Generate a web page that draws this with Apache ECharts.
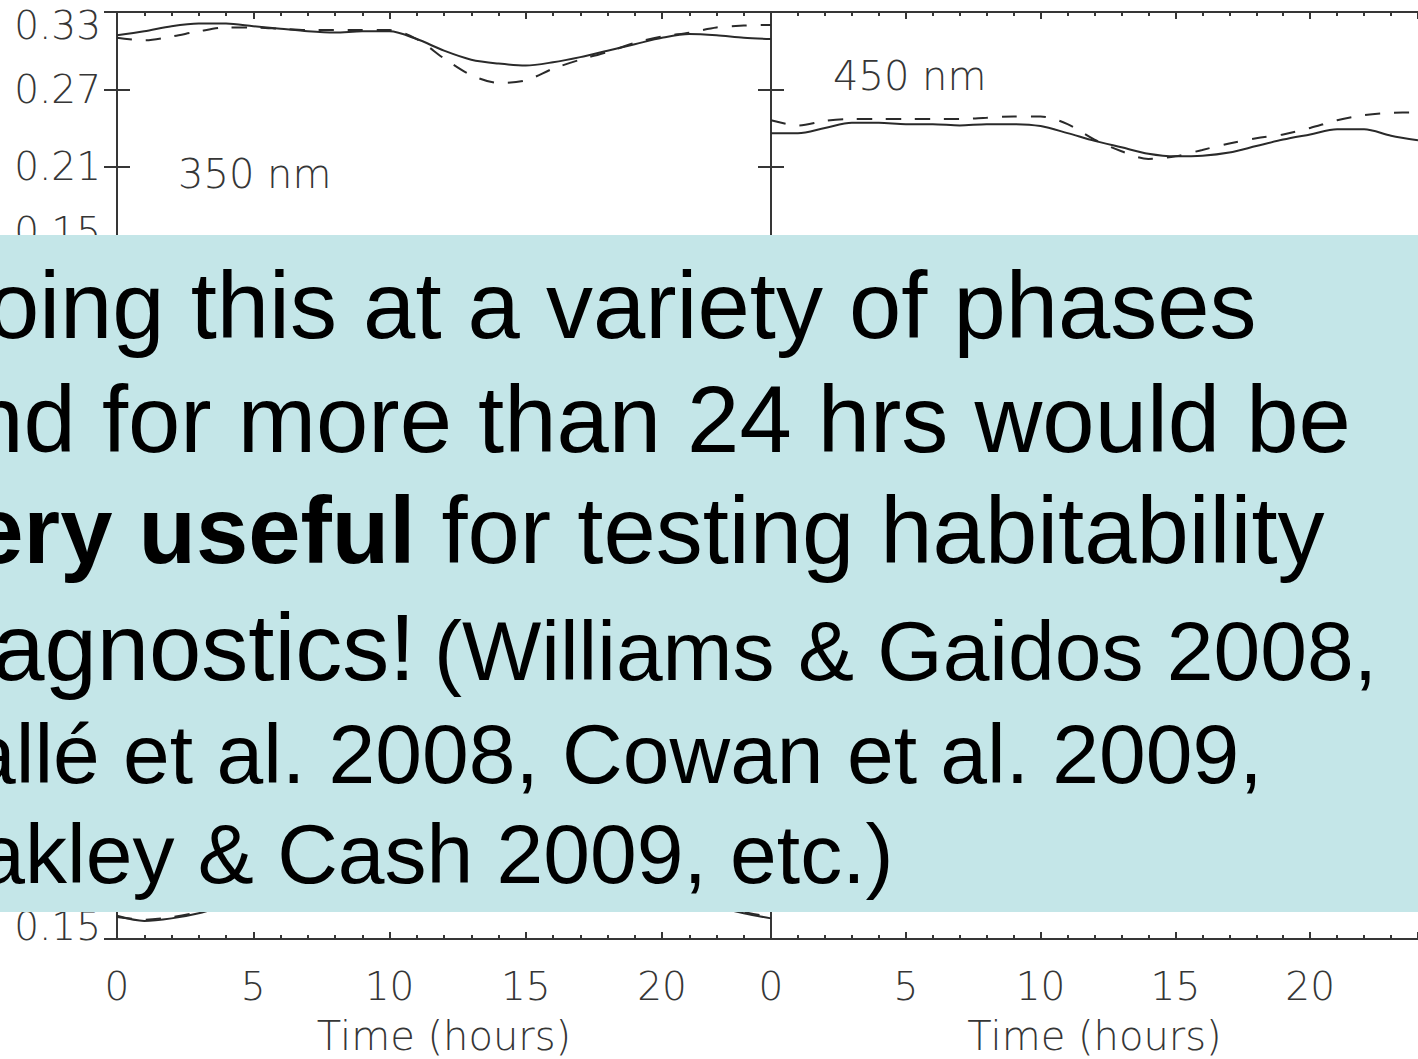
<!DOCTYPE html>
<html>
<head>
<meta charset="utf-8">
<title>Light curves</title>
<script src="https://cdn.jsdelivr.net/npm/echarts@6/dist/echarts.min.js"></script>
<style>
  html, body { margin: 0; padding: 0; background: #fff; }
  #main { width: 1418px; height: 1059px; }
</style>
</head>
<body>
<div id="main"></div>
<script>
// time in hours, one point per hour
const hours = [0,1,2,3,4,5,6,7,8,9,10,11,12,13,14,15,16,17,18,19,20,21,22,23,24]
const xTickLabels = [0, 5, 10, 15, 20]
const xMax = 24
const yTickLabels = [0.15, 0.21, 0.27, 0.33]
const panelNames = ['350 nm', '450 nm']

// 350 nm panel (top left)
const solid350 = [0.312,0.315,0.319,0.321,0.321,0.319,0.317,0.315,0.314,0.315,0.315,0.309,0.300,0.293,0.290,0.2885,0.291,0.295,0.300,0.305,0.310,0.313,0.312,0.310,0.309]
const dashed350 = [0.310,0.308,0.311,0.315,0.318,0.318,0.317,0.316,0.316,0.316,0.316,0.309,0.294,0.281,0.275,0.277,0.286,0.293,0.299,0.306,0.311,0.314,0.318,0.3195,0.320]
// 450 nm panel (top right)
const solid450 = [0.236,0.236,0.240,0.244,0.244,0.243,0.243,0.242,0.243,0.243,0.2415,0.236,0.230,0.225,0.220,0.218,0.2185,0.221,0.226,0.231,0.235,0.239,0.239,0.234,0.2305]
const dashed450 = [0.246,0.242,0.2455,0.247,0.247,0.247,0.247,0.247,0.248,0.249,0.249,0.243,0.231,0.222,0.216,0.218,0.223,0.228,0.232,0.235,0.240,0.246,0.250,0.2518,0.252]
// bottom row panels, mostly hidden behind the text box
const solidLowL = [0.168,0.164,0.166,0.170,0.176,0.182,0.186,0.188,0.189,0.189,0.188,0.186,0.183,0.180,0.179,0.179,0.181,0.184,0.187,0.188,0.186,0.181,0.175,0.170,0.166]
const dashedLowL = [0.167,0.165,0.167,0.171,0.177,0.184,0.189,0.191,0.192,0.191,0.189,0.186,0.182,0.178,0.176,0.177,0.180,0.184,0.188,0.190,0.188,0.183,0.176,0.171,0.167]
const solidLowR = [0.195,0.198,0.201,0.203,0.204,0.204,0.203,0.202,0.202,0.202,0.201,0.198,0.194,0.190,0.187,0.186,0.187,0.190,0.194,0.198,0.201,0.203,0.203,0.201,0.199]
const dashedLowR = [0.197,0.199,0.202,0.205,0.206,0.206,0.205,0.204,0.204,0.204,0.203,0.198,0.191,0.185,0.182,0.183,0.186,0.190,0.195,0.199,0.203,0.206,0.207,0.206,0.205]

const INK = '#363636'
const AXIS_FONT = 'DejaVu Sans'
const BOX_FONT = '"Liberation Sans", Arial, sans-serif'

const yMin = yTickLabels[0]
const yMax = yTickLabels[yTickLabels.length - 1]
const yStep = Math.round((yTickLabels[1] - yTickLabels[0]) * 100) / 100
const xStep = xTickLabels[1] - xTickLabels[0]

// 4 x 2 panel layout, only top and bottom rows show
// yLabels: 'all' | 'min' | null  (bottom row only shows the lowest label, rest is under the box)
const panels = [
  { box: { left: 117, top: 12 }, solid: solid350, dashed: dashed350, yLabels: 'all', xLabels: false },
  { box: { left: 771, top: 12 }, solid: solid450, dashed: dashed450, yLabels: null, xLabels: false },
  { box: { left: 117, top: 707 }, solid: solidLowL, dashed: dashedLowL, yLabels: 'min', xLabels: true },
  { box: { left: 771, top: 707 }, solid: solidLowR, dashed: dashedLowR, yLabels: null, xLabels: true }
]

const frameLine = { show: true, lineStyle: { color: INK, width: 2 } }

//end labels sit inside the panel like the original plot
function yFormatterFor(mode) {
  return function (v) {
    const s = v.toFixed(2)
    if (v <= yMin + 1e-9) return '{lo|' + s + '}'
    if (mode === 'min') return ''
    if (v >= yMax - 1e-9) return '{hi|' + s + '}'
    return s
  }
}

function xAxisFor(gi, position, withLabels) {
  return {
    type: 'value', gridIndex: gi, position: position,
    min: 0, max: xMax, interval: xStep,
    axisLine: frameLine,
    axisTick: { show: true, inside: true, length: 7, lineStyle: { color: INK, width: 2 } },
    minorTick: { show: true, splitNumber: 5, length: 4, lineStyle: { color: INK, width: 2 } },
    splitLine: { show: false },
    axisLabel: withLabels ? {
      show: true, margin: 28, fontSize: 39, fontFamily: AXIS_FONT, fontWeight: 300, color: INK,
      showMaxLabel: false
    } : { show: false },
    name: withLabels ? 'Time (hours)' : '',
    nameLocation: 'middle',
    nameGap: 77,
    nameTextStyle: { fontSize: 40, fontFamily: AXIS_FONT, fontWeight: 300, color: INK }
  }
}

function yAxisFor(gi, position, mode) {
  return {
    type: 'value', gridIndex: gi, position: position,
    min: yMin, max: yMax, interval: yStep,
    axisLine: frameLine,
    axisTick: { show: true, inside: true, length: 13, lineStyle: { color: INK, width: 2 } },
    splitLine: { show: false },
    axisLabel: mode ? {
      show: true, margin: 16, fontSize: 39, fontFamily: AXIS_FONT, fontWeight: 300, color: INK,
      formatter: yFormatterFor(mode),
      rich: {
        hi: { fontSize: 39, fontFamily: AXIS_FONT, fontWeight: 300, color: INK, padding: [26, 0, 0, 0] },
        lo: { fontSize: 39, fontFamily: AXIS_FONT, fontWeight: 300, color: INK, padding: [0, 0, 26, 0] }
      }
    } : { show: false }
  }
}

const grids = []
const xAxes = []
const yAxes = []
const series = []

panels.forEach((p, gi) => {
  grids.push({ left: p.box.left, top: p.box.top, width: 654, height: 232, containLabel: false })
  xAxes.push(xAxisFor(gi, 'bottom', p.xLabels))
  xAxes.push(xAxisFor(gi, 'top', false))
  yAxes.push(yAxisFor(gi, 'left', p.yLabels))
  yAxes.push(yAxisFor(gi, 'right', null))
  series.push({
    type: 'line', xAxisIndex: 2 * gi, yAxisIndex: 2 * gi,
    data: hours.map((h, i) => [h, p.solid[i]]),
    smooth: 0.3, symbol: 'none', silent: true,
    lineStyle: { color: '#2a2a2a', width: 2 }
  })
  series.push({
    type: 'line', xAxisIndex: 2 * gi, yAxisIndex: 2 * gi,
    data: hours.map((h, i) => [h, p.dashed[i]]),
    smooth: 0.3, symbol: 'none', silent: true,
    lineStyle: { color: '#2a2a2a', width: 2, type: [15, 14] }
  })
})

function boxText(str, x, y, size) {
  return {
    type: 'text', x: x, y: y, z: 101,
    style: {
      text: str, fontSize: size, fontFamily: BOX_FONT, fill: '#000',
      align: 'left', verticalAlign: 'middle', textAlign: 'left', textVerticalAlign: 'middle'
    }
  }
}

function panelName(str, x, y) {
  return {
    type: 'text', x: x, y: y, z: 5,
    style: {
      text: str, fontSize: 40, fontFamily: AXIS_FONT, fontWeight: 300, fill: INK,
      align: 'left', verticalAlign: 'middle', textAlign: 'left', textVerticalAlign: 'middle'
    }
  }
}

const X0 = -81
const graphics = [
  // wavelength labels
  panelName(panelNames[0], 178, 174),
  panelName(panelNames[1], 833, 76),
  // slide text box on top of the plot
  { type: 'rect', z: 100, shape: { x: 0, y: 235, width: 1418, height: 677 }, style: { fill: '#c4e6e8' } },
  boxText('Doing this at a variety of phases', X0, 305, 94),
  boxText('and for more than 24 hrs would be', X0, 419, 94),
  {
    type: 'text', x: X0, y: 530, z: 101,
    style: {
      text: '{b|very useful} for testing habitability',
      fontSize: 94, fontFamily: BOX_FONT, fill: '#000',
      align: 'left', verticalAlign: 'middle', textAlign: 'left', textVerticalAlign: 'middle',
      rich: { b: { fontSize: 94, fontFamily: BOX_FONT, fontWeight: 'bold', fill: '#000' } }
    }
  },
  boxText('diagnostics!', X0, 647, 94),
  boxText('(Williams & Gaidos 2008,', 434, 651, 84),
  boxText('Pallé et al. 2008, Cowan et al. 2009,', -87, 754, 84),
  boxText('Oakley & Cash 2009, etc.)', -87, 854, 84)
]

const chart = echarts.init(document.getElementById('main'), null, { renderer: 'svg' })
chart.setOption({
  backgroundColor: '#fff',
  animation: false,
  grid: grids,
  xAxis: xAxes,
  yAxis: yAxes,
  series: series,
  graphic: graphics
})
</script>
</body>
</html>
